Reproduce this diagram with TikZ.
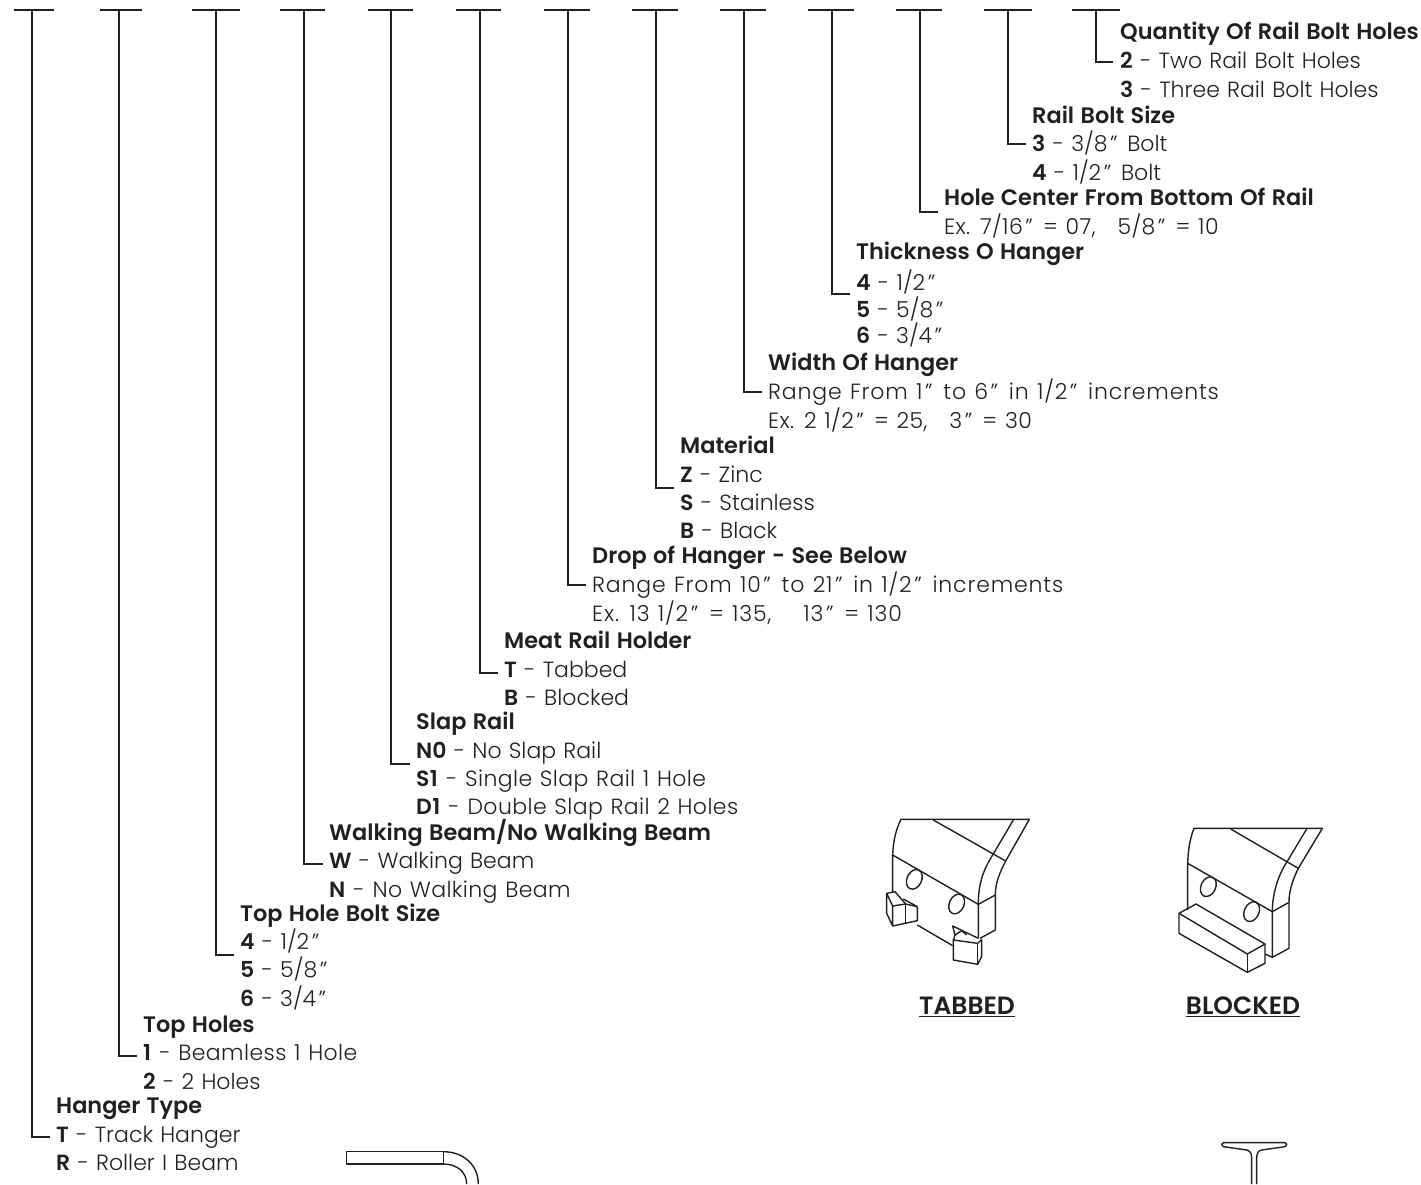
\documentclass[tikz,border=0pt]{standalone}
\usepackage{fontspec}
\setmainfont{Poppins}[UprightFont=* Light, BoldFont=* SemiBold, WordSpace=1.2]
\definecolor{ink}{HTML}{231F20}
\newcommand{\inch}{\kern2.5pt''\kern2.5pt}
\newcommand{\gap}{\hspace{22pt}}
\newcommand{\wider}{\addfontfeature{LetterSpace=1.8}}
\newcommand{\widest}{\addfontfeature{LetterSpace=3.8}}
\tikzset{
  head/.style={anchor=west, inner sep=0pt, text height=20pt, text depth=5pt, font=\fontsize{22.4}{26}\selectfont\bfseries, text=ink},
  item/.style={anchor=west, inner sep=0pt, text height=20pt, text depth=5pt, font=\fontsize{22}{26}\selectfont, text=ink},
  caption/.style={anchor=center, inner sep=0pt, font=\fontsize{25}{28}\selectfont\bfseries, text=ink},
  leader/.style={line width=2pt, ink},
  part/.style={line width=1.4pt, ink, line join=round}
}
\begin{document}
\begin{tikzpicture}[x=1pt, y=-1pt]
  \useasboundingbox (0,0) rectangle (1421,1184);
  % bars and elbows
  \foreach \n/\l/\r/\s/\e/\t in {1/14/54/32/1137/50, 2/100/142/119/1056/137, 3/192/240/216/955/234,
      4/280/325/304/864/323, 5/368/413/391/764/410, 6/456/501/480/673/498, 7/544/590/568/585/586,
      8/632/678/656/488/674, 9/720/766/744/392/762, 10/808/854/832/294/850, 11/896/942/920/212/938,
      12/984/1032/1008/144/1026, 13/1072/1120/1096/62/1113} {
    \coordinate (barL\n) at (\l,10);
    \coordinate (barR\n) at (\r,10);
    \coordinate (stem\n) at (\s,10);
    \coordinate (elbow\n) at (\t,\e);
    \draw[leader] (barL\n) -- (barR\n);
    \draw[leader] (stem\n) |- (elbow\n);
  }
  % quantity
  \node[head] (qtyHead) at (1120,32) {Quantity Of Rail Bolt Holes};
  \node[item] (qtyA) at (1120,61) {\textbf{2} - Two Rail Bolt Holes};
  \node[item] (qtyB) at (1120,90) {\textbf{3} - Three Rail Bolt Holes};
  % bolt size
  \node[head] (boltHead) at (1032,116) {Rail Bolt Size};
  \node[item] (boltA) at (1032,144) {\textbf{3} - 3/8\inch{} Bolt};
  \node[item] (boltB) at (1032,173) {\textbf{4} - 1/2\inch{} Bolt};
  % hole center
  \node[head] (holeHead) at (944,198) {Hole Center From Bottom Of Rail};
  \node[item] (holeA) at (944,227) {\wider Ex. 7/16\inch{} = 07,\gap 5/8\inch{} = 10};
  % thickness
  \node[head] (thickHead) at (856,252) {Thickness O Hanger};
  \node[item] (thickA) at (856,283) {\textbf{4} - 1/2\inch};
  \node[item] (thickB) at (856,310) {\textbf{5} - 5/8\inch};
  \node[item] (thickC) at (856,336) {\textbf{6} - 3/4\inch};
  % width
  \node[head] (widthHead) at (768,363) {Width Of Hanger};
  \node[item] (widthA) at (768,392) {\widest Range From 1\inch{} to 6\inch{} in 1/2\inch{} increments};
  \node[item] (widthB) at (768,421) {\wider Ex. 2 1/2\inch{} = 25,\gap 3\inch{} = 30};
  % material
  \node[head] (matHead) at (680,446) {Material};
  \node[item] (matA) at (680,475) {\textbf{Z} - Zinc};
  \node[item] (matB) at (680,503) {\textbf{S} - Stainless};
  \node[item] (matC) at (680,531) {\textbf{B} - Black};
  % drop
  \node[head] (dropHead) at (592,556) {Drop of Hanger - See Below};
  \node[item] (dropA) at (592,585) {\widest Range From 10\inch{} to 21\inch{} in 1/2\inch{} increments};
  \node[item] (dropB) at (592,614) {\widest Ex. 13 1/2\inch{} = 135,\hspace{32pt}13\inch{} = 130};
  % meat rail
  \node[head] (meatHead) at (504,641) {Meat Rail Holder};
  \node[item] (meatA) at (504,670) {\textbf{T} - Tabbed};
  \node[item] (meatB) at (504,698) {\textbf{B} - Blocked};
  % slap rail
  \node[head] (slapHead) at (416,722) {Slap Rail};
  \node[item] (slapA) at (416,751) {\textbf{N0} - No Slap Rail};
  \node[item] (slapB) at (416,779) {\wider\textbf{S1} - Single Slap Rail 1 Hole};
  \node[item] (slapC) at (416,807) {\wider\textbf{D1} - Double Slap Rail 2 Holes};
  % walking beam
  \node[head] (walkHead) at (329,833) {Walking Beam/No Walking Beam};
  \node[item] (walkA) at (329,861) {\textbf{W} - Walking Beam};
  \node[item] (walkB) at (329,890) {\wider\textbf{N} - No Walking Beam};
  % top hole bolt
  \node[head] (topBoltHead) at (240,914) {Top Hole Bolt Size};
  \node[item] (topBoltA) at (240,942) {\textbf{4} - 1/2\inch};
  \node[item] (topBoltB) at (240,970) {\textbf{5} - 5/8\inch};
  \node[item] (topBoltC) at (240,999) {\textbf{6} - 3/4\inch};
  % top holes
  \node[head] (topHead) at (143,1025) {Top Holes};
  \node[item] (topA) at (143,1053) {\wider\textbf{1} - Beamless 1 Hole};
  \node[item] (topB) at (143,1082) {\textbf{2} - 2 Holes};
  % hanger type
  \node[head] (typeHead) at (56,1106) {Hanger Type};
  \node[item] (typeA) at (56,1135) {\textbf{T} - Track Hanger};
  \node[item] (typeB) at (56,1163) {\textbf{R} - Roller I Beam};
  % tabbed part
  \begin{scope}[shift={(840,800)}, x=0.3333pt, y=-0.3333pt, part]
    \draw (158,165) .. controls (160,115) and (170,85) .. (183,58) -- (568,58) -- (497,183)
      .. controls (478,220) and (466,250) .. (466,285) -- (466,390) -- (420,415);
    \draw (280,60) -- (497,183);
    \draw (520,60) -- (458,165) .. controls (430,210) and (415,250) .. (415,313) -- (415,415);
    \draw (158,278) -- (158,165) -- (415,313) -- (466,285);
    \draw[rotate around={-25:(223,238)}] (223,238) ellipse (22 and 31);
    \draw[rotate around={-25:(350,312)}] (350,312) ellipse (22 and 31);
    % left tab
    \draw (140,280) -- (158,318) -- (158,378) -- (140,340) -- cycle;
    \draw (158,318) -- (197,312) -- (232,320) -- (232,362) -- (158,378);
    \draw (197,312) -- (197,370);
    \draw (140,280) -- (165,275) -- (197,312);
    \draw (190,297) -- (232,320);
    \draw (232,375) -- (338,437);
    % right tab
    \draw (340,420) -- (340,480) -- (413,493) -- (425,470) -- (425,418) -- (413,430) -- cycle;
    \draw (413,430) -- (413,493);
    \draw (340,420) -- (345,405) -- (338,378) -- (415,415);
    \draw (345,405) -- (365,392) -- (380,405);
  \end{scope}
  \node[caption] (tabbedCap) at (967,1007) {\underline{TABBED}};
  % blocked part
  \begin{scope}[shift={(1120,800)}, x=0.3333pt, y=-0.3333pt, part]
    \draw (203,190) .. controls (205,140) and (212,110) .. (222,85) -- (607,85) -- (535,205)
      .. controls (520,235) and (507,270) .. (507,307) -- (507,445) -- (457,472) -- (435,462);
    \draw (332,87) -- (535,205);
    \draw (560,87) -- (500,187) .. controls (475,225) and (457,280) .. (457,335) -- (457,472);
    \draw (203,330) -- (203,190) -- (457,335) -- (507,307);
    \draw[rotate around={-25:(265,260)}] (265,260) ellipse (22 and 31);
    \draw[rotate around={-25:(395,335)}] (395,335) ellipse (22 and 31);
    \draw (177,340) -- (228,312) -- (435,432) -- (382,462) -- cycle;
    \draw (177,340) -- (177,400) -- (382,517) -- (435,490) -- (435,432);
    \draw (382,462) -- (382,517);
  \end{scope}
  \node[caption] (blockedCap) at (1243,1007) {\underline{BLOCKED}};
  % bolt at the bottom
  \begin{scope}[shift={(330,1130)}, x=0.3333pt, y=-0.3333pt, part]
    \draw (340,65) -- (50,65) -- (50,102) -- (340,102) -- cycle;
    \draw (340,65) .. controls (400,65) and (445,105) .. (445,162);
    \draw (340,102) .. controls (380,102) and (410,125) .. (410,162);
  \end{scope}
  % rail at the bottom
  \begin{scope}[shift={(1200,1130)}, x=0.3333pt, y=-0.3333pt, part]
    \draw (155,162) -- (155,85) .. controls (155,70) and (150,62) .. (140,60) -- (70,50)
      .. controls (63,48) and (63,38) .. (70,38) -- (255,38) .. controls (262,38) and (262,48) .. (255,50)
      -- (185,60) .. controls (175,62) and (170,70) .. (170,85) -- (170,162);
  \end{scope}
\end{tikzpicture}
\end{document}
